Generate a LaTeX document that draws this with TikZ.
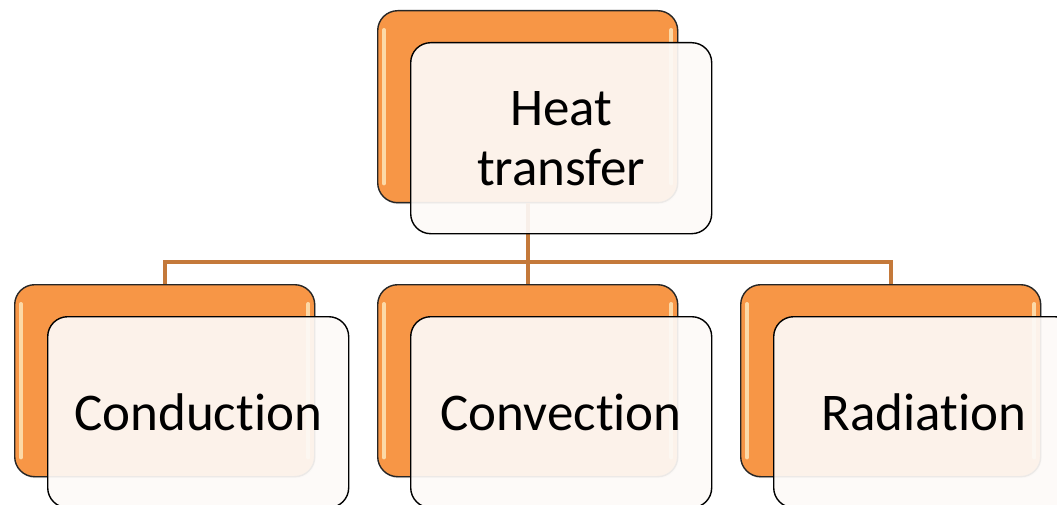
\documentclass[tikz,border=0pt]{standalone}
\usepackage{fontspec}
\setmainfont{Carlito}[Ligatures=CommonOff]
\usetikzlibrary{shadows,calc}
\definecolor{orangefill}{RGB}{247,150,70}
\definecolor{linkcol}{RGB}{196,121,58}
\definecolor{paper}{RGB}{253,250,248}
\definecolor{gleamcol}{RGB}{255,240,200}
\tikzset{
  back/.style={draw=black!85, line width=1.4pt, fill=orangefill, rounded corners=20pt,
    minimum width=300pt, minimum height=192pt, inner sep=0pt, anchor=north west,
    drop shadow={opacity=0.25, shadow xshift=1pt, shadow yshift=-1.5pt}},
  front/.style={draw=black, line width=1.4pt, fill=paper, fill opacity=0.92, text opacity=1,
    rounded corners=20pt, minimum width=301pt, minimum height=191pt, inner sep=0pt,
    anchor=north west, align=center, font=\fontsize{53}{60}\selectfont},
  link/.style={draw=linkcol, line width=4pt},
  gleam/.style={draw=gleamcol, line width=4pt, line cap=round, opacity=0.75}
}
\begin{document}
\begin{tikzpicture}[x=1pt,y=-1pt]
\clip (0,0) rectangle (1057,505);
\fill[white] (0,0) rectangle (1057,505);
% back (orange) boxes
\node[back] (hT) at (377,10) {};
\node[back] (b1) at (14,284) {};
\node[back] (b2) at (377,284) {};
\node[back] (b3) at (740,284) {};
\foreach \n in {hT,b1,b2,b3}{
  \draw[gleam] ([shift={(7,20)}]\n.north west) -- ([shift={(7,-20)}]\n.south west);
  \draw[gleam] ([shift={(-7,20)}]\n.north east) -- ([shift={(-7,-20)}]\n.south east);
}
% connectors
\coordinate (bus) at (0,262);
\draw[link] (hT.south) -- (hT.south |- bus) -| (b1.north);
\draw[link] (hT.south) -- (b2.north);
\draw[link] (hT.south |- bus) -| (b3.north);
% front boxes
\node[front] (fT) at (410,42) {Heat\\transfer};
\node[front] (f1) at (47,316) {Conduction};
\node[front] (f2) at (410,316) {Convection};
\node[front] (f3) at (773,316) {Radiation};
\end{tikzpicture}
\end{document}
